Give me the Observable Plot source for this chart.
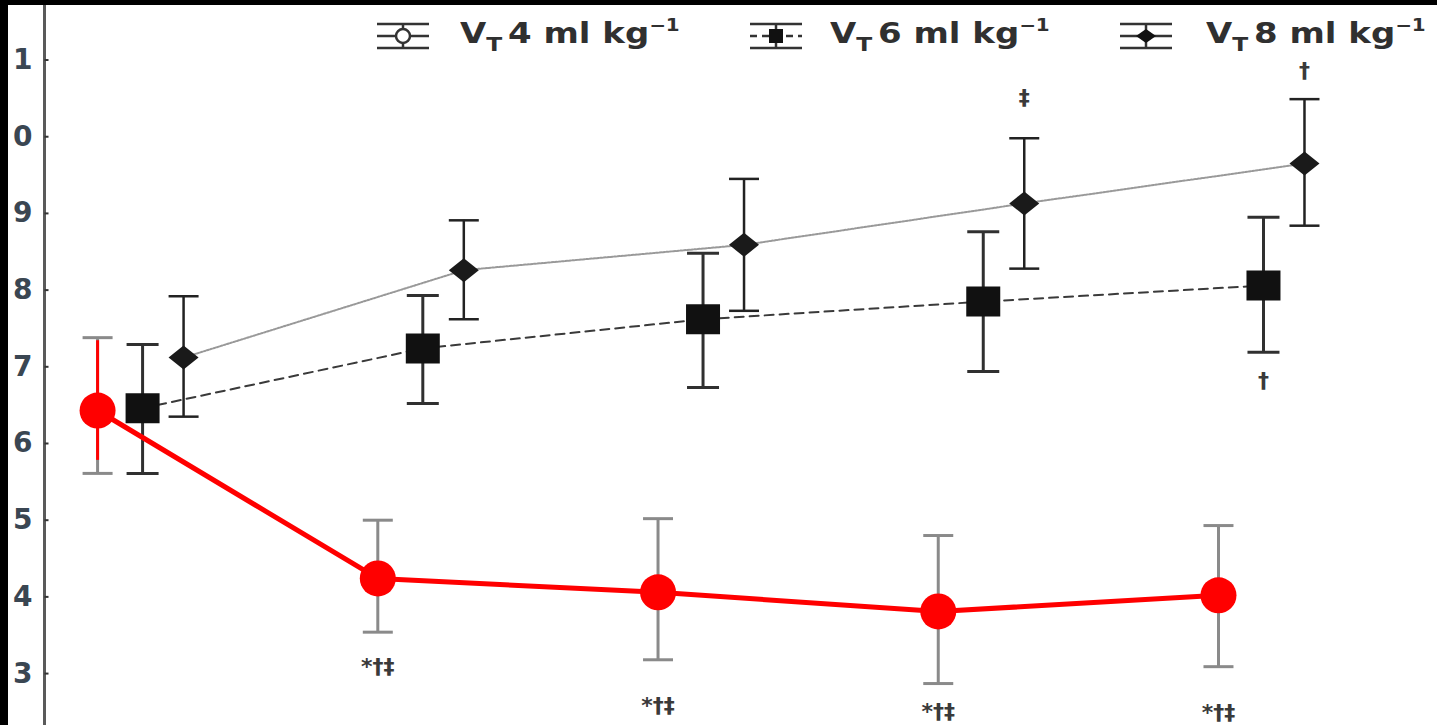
<!DOCTYPE html>
<html>
<head>
<meta charset="utf-8">
<script src="https://cdn.jsdelivr.net/npm/d3@7"></script>
<script src="https://cdn.jsdelivr.net/npm/@observablehq/plot@0.6"></script>
<style>
  html, body { margin: 0; padding: 0; background: #000; }
  #wrap { position: absolute; left: 8px; top: 5px; width: 1429px; height: 720px; background: #fff; overflow: hidden; }
  #chart svg { display: block; }
  .leg { position: absolute; font-family: "DejaVu Sans", sans-serif; font-weight: bold; font-size: 29px; color: #303030; line-height: 1; white-space: nowrap; letter-spacing: 0; transform: scaleX(1.17); transform-origin: left center; }
  .leg sub { font-size: 20px; position: relative; top: 8px; vertical-align: baseline; margin-right: 5px; }
  .leg sup { font-size: 17px; position: relative; top: -12px; vertical-align: baseline; }
  .icon { position: absolute; }
</style>
</head>
<body>
<div id="wrap">
  <div id="chart"></div>
  <div id="legend"></div>
</div>
<script>
// ---- data ----
const timepoints = [0, 1, 2, 3, 4];
const seriesNames = ["VT4", "VT6", "VT8"];
const legendValues = ["4", "6", "8"];

const vt4Mean = [6.43, 4.24, 4.06, 3.81, 4.02];
const vt4Hi   = [7.38, 5.00, 5.02, 4.80, 4.93];
const vt4Lo   = [5.61, 3.54, 3.18, 2.87, 3.09];

const vt6Mean = [6.46, 7.24, 7.62, 7.85, 8.06];
const vt6Hi   = [7.29, 7.93, 8.48, 8.76, 8.95];
const vt6Lo   = [5.61, 6.52, 6.73, 6.94, 7.19];

const vt8Mean = [7.12, 8.26, 8.59, 9.13, 9.65];
const vt8Hi   = [7.92, 8.91, 9.45, 9.98, 10.49];
const vt8Lo   = [6.35, 7.62, 7.73, 8.28, 8.84];

// red overlay (first point vertical mark)
const redBarHi = [7.34];
const redBarLo = [5.78];

const yTicks = [3, 4, 5, 6, 7, 8, 9, 10, 11];
const yTickLabels = ["3", "4", "5", "6", "7", "8", "9", "0", "1"];

const annotSeries = ["VT4", "VT4", "VT4", "VT4", "VT8", "VT8", "VT6"];
const annotTime   = [1, 2, 3, 4, 3, 4, 4];
const annotValue  = [3.08, 2.58, 2.50, 2.49, 10.51, 10.86, 6.82];
const annotText   = ["*†‡", "*†‡", "*†‡", "*†‡", "‡", "†", "†"];

// ---- tables ----
const mk = (mean, hi, lo) => timepoints.map((t, i) => ({t, mean: mean[i], hi: hi[i], lo: lo[i]}));
const vt4 = mk(vt4Mean, vt4Hi, vt4Lo);
const vt6 = mk(vt6Mean, vt6Hi, vt6Lo);
const vt8 = mk(vt8Mean, vt8Hi, vt8Lo);
const redBar = redBarHi.map((h, i) => ({t: timepoints[i], hi: h, lo: redBarLo[i]}));
const annots = annotText.map((s, i) => ({s: annotSeries[i], t: annotTime[i], v: annotValue[i], label: s}));

// ---- styles ----
const dxOf = {VT4: -45, VT6: 0, VT8: 41};
const cap = w => ({draw(ctx) { ctx.moveTo(-w, 0); ctx.lineTo(w, 0); }});
const rectSym = (w, h) => ({draw(ctx) { ctx.rect(-w, -h, 2 * w, 2 * h); }});
const rhombus = (w, h) => ({draw(ctx) { ctx.moveTo(-w, 0); ctx.lineTo(0, -h); ctx.lineTo(w, 0); ctx.lineTo(0, h); ctx.closePath(); }});
const tickSym = {draw(ctx) { ctx.moveTo(0, 0); ctx.lineTo(4, 0); }};

const xDomain = [-0.35, 4.621];

function errMarks(data, dx, color, width, capW) {
  return [
    Plot.ruleX(data, {x: "t", y1: "lo", y2: "hi", dx, stroke: color, strokeWidth: width}),
    Plot.dot(data, {x: "t", y: "hi", dx, symbol: cap(capW), stroke: color, strokeWidth: width, r: 1}),
    Plot.dot(data, {x: "t", y: "lo", dx, symbol: cap(capW), stroke: color, strokeWidth: width, r: 1})
  ];
}

const annotMarks = seriesNames.map(s =>
  Plot.text(annots.filter(a => a.s === s), {x: "t", y: "v", dx: dxOf[s], text: "label", fill: "#3a3a3a", fontSize: 22, fontWeight: "bold", fontFamily: "DejaVu Sans"})
);

const chart = Plot.plot({
  width: 1429,
  height: 720,
  marginLeft: 36,
  marginRight: 0,
  marginTop: 0,
  marginBottom: 0,
  style: {background: "#fff", overflow: "hidden"},
  x: {type: "linear", domain: xDomain, axis: null},
  y: {domain: [2.323, 11.711]},
  marks: [
    // lines
    Plot.line(vt8, {x: "t", y: "mean", dx: dxOf.VT8, stroke: "#999", strokeWidth: 2, strokeDasharray: "2,1.5"}),
    Plot.line(vt6, {x: "t", y: "mean", dx: dxOf.VT6, stroke: "#3a3a3a", strokeWidth: 2, strokeDasharray: "9,6"}),
    Plot.line(vt4, {x: "t", y: "mean", dx: dxOf.VT4, stroke: "#777", strokeWidth: 2}),
    // error bars
    ...errMarks(vt4, dxOf.VT4, "#8a8a8a", 3, 15),
    ...errMarks(vt6, dxOf.VT6, "#303030", 3, 16),
    ...errMarks(vt8, dxOf.VT8, "#222", 2.5, 15),
    // markers
    Plot.dot(vt8, {x: "t", y: "mean", dx: dxOf.VT8, symbol: rhombus(15, 12), fill: "#1a1a1a", r: 1}),
    Plot.dot(vt6, {x: "t", y: "mean", dx: dxOf.VT6, symbol: rectSym(17, 15), fill: "#111", r: 1}),
    // red overlay
    Plot.line(vt4, {x: "t", y: "mean", dx: dxOf.VT4, stroke: "#ff0000", strokeWidth: 5}),
    Plot.ruleX(redBar, {x: "t", y1: "lo", y2: "hi", dx: dxOf.VT4, stroke: "#ff0000", strokeWidth: 3}),
    Plot.dot(vt4, {x: "t", y: "mean", dx: dxOf.VT4, r: 18, fill: "#ff0000"}),
    // annotations
    ...annotMarks,
    // axis
    Plot.frame({anchor: "left", stroke: "#5a5a5a", strokeWidth: 3}),
    Plot.dot(yTicks, {x: () => xDomain[0], y: d => d, symbol: tickSym, stroke: "#333", strokeWidth: 2, r: 1}),
    Plot.axisY(yTicks, {tickSize: 0, tickPadding: 12, tickFormat: (d, i) => yTickLabels[i], fontSize: 28, fontWeight: "bold", fontFamily: "DejaVu Sans", fill: "#3a4652"})
  ]
});
document.getElementById("chart").append(chart);

// ---- legend (inside plot area, top) ----
const legendIconLeft = [369, 742, 1112];
const legendTextLeft = [452, 822, 1198];
const legendEl = document.getElementById("legend");
const iconMarker = [
  '<circle cx="26" cy="14" r="7" fill="#fff" stroke="#333" stroke-width="2.5"/>',
  '<rect x="19" y="7" width="14" height="14" fill="#111"/>',
  '<path d="M16,14 L26,7 L36,14 L26,21 Z" fill="#111"/>'
];
const iconMid = [
  '<line x1="0" y1="14" x2="52" y2="14" stroke="#333" stroke-width="2.5"/>',
  '<line x1="0" y1="14" x2="52" y2="14" stroke="#333" stroke-width="2.5" stroke-dasharray="7,5"/>',
  '<line x1="0" y1="14" x2="52" y2="14" stroke="#333" stroke-width="2.5"/>'
];
seriesNames.forEach((s, i) => {
  const icon = document.createElement("div");
  icon.className = "icon";
  icon.style.left = legendIconLeft[i] + "px";
  icon.style.top = "17px";
  icon.innerHTML = `<svg width="52" height="28" viewBox="0 0 52 28">
    <line x1="0" y1="2" x2="52" y2="2" stroke="#333" stroke-width="2.5"/>
    <line x1="0" y1="26" x2="52" y2="26" stroke="#333" stroke-width="2.5"/>
    <line x1="26" y1="2" x2="26" y2="26" stroke="#333" stroke-width="2.5"/>
    ${iconMid[i]}${iconMarker[i]}</svg>`;
  legendEl.append(icon);
  const t = document.createElement("div");
  t.className = "leg";
  t.style.left = legendTextLeft[i] + "px";
  t.style.top = "14px";
  t.innerHTML = `V<sub>T</sub>${legendValues[i]} ml kg<sup>−1</sup>`;
  legendEl.append(t);
});
</script>
</body>
</html>
